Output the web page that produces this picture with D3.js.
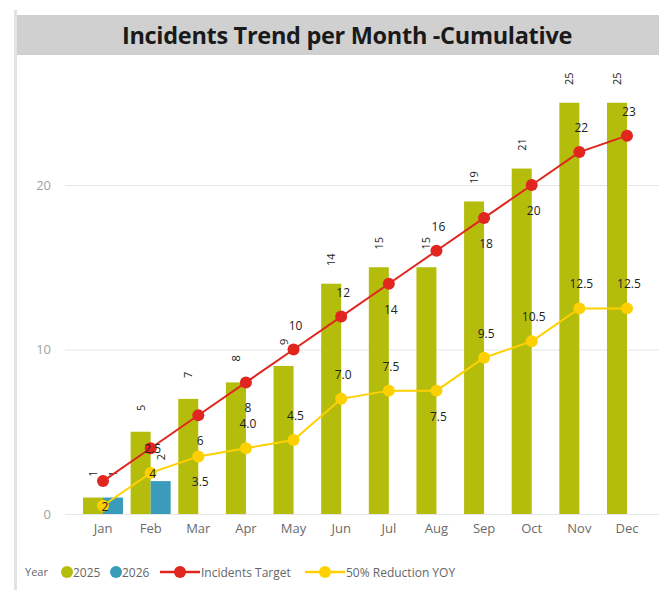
<!DOCTYPE html>
<html><head><meta charset="utf-8">
<script src="https://cdn.jsdelivr.net/npm/d3@7"></script>
<style>
body{margin:0;background:#fff;}
svg{display:block;font-family:"Open Sans","Noto Sans",sans-serif;}
</style></head>
<body><svg id="c" width="659" height="590"></svg>
<script>
const title = "Incidents Trend per Month -Cumulative";
const months = ["Jan","Feb","Mar","Apr","May","Jun","Jul","Aug","Sep","Oct","Nov","Dec"];
const years = ["2025","2026"];
const values2025 = [1,5,7,8,9,14,15,15,19,21,25,25];
const values2026 = [1,2,null,null,null,null,null,null,null,null,null,null];
const incidentsTarget = [2,4,6,8,10,12,14,16,18,20,22,23];
const reductionYOY = [0.5,2.5,3.5,4.0,4.5,7.0,7.5,7.5,9.5,10.5,12.5,12.5];
const yTicks = [0,10,20];
const legendLabels = ["2025","2026","Incidents Target","50% Reduction YOY"];
// label placement (a = above, b = below, n = hidden)
const targetLabelPos = ["b","b","b","b","a","a","b","a","b","b","a","a"];
const yoyLabelPos    = ["n","a","b","a","a","a","a","b","a","a","a","a"];

const colors = {y2025:"#b5bd0c", y2026:"#3a9bbb", target:"#e0261f", yoy:"#ffd000"};
const svg = d3.select("#c");

// frame
svg.append("rect").attr("x",14).attr("y",10).attr("width",3).attr("height",580).attr("fill","#e3e3e3");
svg.append("rect").attr("x",17).attr("y",15).attr("width",642).attr("height",40).attr("fill","#d0d0d0");
svg.append("text").attr("x",347).attr("y",44).attr("text-anchor","middle")
  .attr("font-size",23.5).attr("font-weight",700).attr("letter-spacing",-0.3).attr("fill","#1a1a1a").text(title);

const x = d3.scaleBand().domain(months).range([79.2,650.8]).paddingInner(0.16).paddingOuter(0.08);
const sub = d3.scaleBand().domain(years).range([0,x.bandwidth()]);
const y = d3.scaleLinear().domain([0,28]).range([514,53.4]);
const cx = m => x(m)+x.bandwidth()/2;

// gridlines & y axis
const gy = svg.append("g").attr("transform","translate(65,0)")
  .call(d3.axisLeft(y).tickValues(yTicks).tickSize(-594).tickPadding(14));
gy.select(".domain").remove();
gy.selectAll(".tick line").attr("stroke","#e6e6e6");
gy.selectAll(".tick text").attr("fill","#a0a0a0").attr("font-size",13).attr("font-family","Open Sans");

// x axis
const gx = svg.append("g").attr("transform","translate(0,514)")
  .call(d3.axisBottom(x).tickSize(0).tickPadding(10));
gx.select(".domain").remove();
gx.selectAll(".tick text").attr("fill","#6a6a6a").attr("font-size",13).attr("font-family","Open Sans");

// bars
const bars = [];
months.forEach((m,i)=>{
  if(values2025[i]!=null) bars.push({m, yr:"2025", v:values2025[i]});
  if(values2026[i]!=null) bars.push({m, yr:"2026", v:values2026[i]});
});
svg.append("g").selectAll("rect").data(bars).join("rect")
  .attr("x",d=>x(d.m)+sub(d.yr)).attr("width",sub.bandwidth())
  .attr("y",d=>y(d.v)).attr("height",d=>y(0)-y(d.v))
  .attr("fill",d=>d.yr==="2025"?colors.y2025:colors.y2026);
svg.append("g").selectAll("text").data(bars).join("text")
  .attr("transform",d=>`translate(${x(d.m)+sub(d.yr)+sub.bandwidth()/2+4},${y(d.v)-24}) rotate(-90)`)
  .attr("text-anchor","middle").attr("font-size",11).attr("fill","#222").text(d=>d.v);

// lines
const lineLayer = svg.append("g");
const labelLayer = svg.append("g");
function drawLine(vals,color,pos,fmt){
  const pts = vals.map((v,i)=>({m:months[i],v,p:pos[i]}));
  lineLayer.append("path").datum(pts)
    .attr("d",d3.line().x(d=>cx(d.m)).y(d=>y(d.v)))
    .attr("fill","none").attr("stroke",color).attr("stroke-width",2);
  lineLayer.append("g").selectAll("circle").data(pts).join("circle")
    .attr("cx",d=>cx(d.m)).attr("cy",d=>y(d.v)).attr("r",6).attr("fill",color);
  labelLayer.append("g").selectAll("text").data(pts.filter(d=>d.p!=="n")).join("text")
    .attr("x",d=>cx(d.m)+2).attr("y",d=>y(d.v)+(d.p==="a"?-20:30))
    .attr("text-anchor","middle").attr("font-size",12).attr("fill","#222").text(d=>fmt(d.v));
}
drawLine(incidentsTarget,colors.target,targetLabelPos,d3.format("d"));
drawLine(reductionYOY,colors.yoy,yoyLabelPos,d3.format(".1f"));

// legend
const lg = svg.append("g").attr("transform","translate(0,572)").attr("font-size",12).attr("fill","#666");
lg.append("text").attr("x",25).attr("y",4).attr("font-size",11).text("Year");
const items = [
  {t:legendLabels[0],c:colors.y2025,line:false,x:67},
  {t:legendLabels[1],c:colors.y2026,line:false,x:116},
  {t:legendLabels[2],c:colors.target,line:true,x:180},
  {t:legendLabels[3],c:colors.yoy,line:true,x:325}
];
items.forEach(it=>{
  if(it.line) lg.append("line").attr("x1",it.x-20).attr("x2",it.x+20).attr("y1",0).attr("y2",0).attr("stroke",it.c).attr("stroke-width",2.5);
  lg.append("circle").attr("cx",it.x).attr("cy",0).attr("r",6).attr("fill",it.c);
  lg.append("text").attr("x",it.x+(it.line?21:6)).attr("y",4.5).text(it.t);
});
</script></body></html>
